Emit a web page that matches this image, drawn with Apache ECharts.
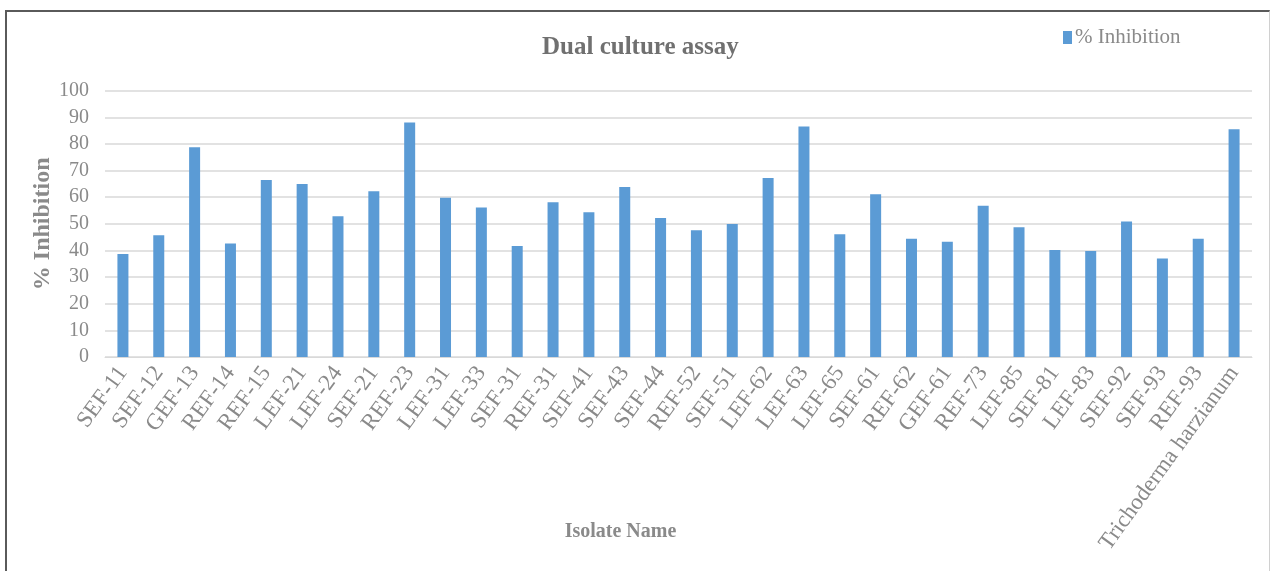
<!DOCTYPE html>
<html>
<head>
<meta charset="utf-8">
<script src="https://cdn.jsdelivr.net/npm/echarts@6/dist/echarts.min.js"></script>
<style>
  html, body { margin: 0; padding: 0; background: #fff; }
  #chart { position: absolute; left: 0; top: 0; width: 1271px; height: 571px; }
  #frame { position: absolute; left: 5px; top: 10px; width: 1262px; height: 570px;
           border-left: 2px solid #5a5a5a; border-top: 2px solid #5a5a5a; border-right: 1px solid #d0d0d0;
           pointer-events: none; }
</style>
</head>
<body>
<div id="chart"></div>
<div id="frame"></div>
<script>
const categories = ["SEF-11","SEF-12","GEF-13","REF-14","REF-15","LEF-21","LEF-24","SEF-21","REF-23","LEF-31","LEF-33","SEF-31","REF-31","SEF-41","SEF-43","SEF-44","REF-52","SEF-51","LEF-62","LEF-63","LEF-65","SEF-61","REF-62","GEF-61","REF-73","LEF-85","SEF-81","LEF-83","SEF-92","SEF-93","REF-93","Trichoderma harzianum"];
const inhibition = [38.7,45.7,78.8,42.6,66.5,65.0,52.9,62.2,88.1,59.8,56.1,41.7,58.1,54.4,63.8,52.2,47.6,49.9,67.2,86.6,46.1,61.1,44.4,43.3,56.8,48.7,40.2,39.8,50.9,37.0,44.4,85.5];
const yTicks = [0,10,20,30,40,50,60,70,80,90,100];

const font = "'Liberation Serif', 'Times New Roman', serif";
const chart = echarts.init(document.getElementById('chart'), null, {renderer: 'canvas'});
chart.setOption({
  animation: false,
  backgroundColor: '#ffffff',
  title: {
    text: 'Dual culture assay',
    left: 537,
    top: 30,
    textStyle: { fontFamily: font, fontSize: 25, fontWeight: 'bold', color: '#707070' }
  },
  legend: {
    data: ['% Inhibition'],
    left: 1058,
    top: 22,
    itemWidth: 9,
    itemHeight: 13,
    itemGap: 4,
    icon: 'rect',
    textStyle: { fontFamily: font, fontSize: 21, color: '#8a8a8a', padding: [0,0,0,-2] }
  },
  grid: { left: 105, right: 19, top: 90.7, bottom: 214, containLabel: false, outerBoundsMode: 'none' },
  xAxis: {
    type: 'category',
    data: categories,
    name: 'Isolate Name',
    nameLocation: 'middle',
    nameGap: 165,
    nameMoveOverlap: false,
    nameTextStyle: { fontFamily: font, fontSize: 20, fontWeight: 'bold', color: '#8a8a8a', padding: [0, 116, 0, 0] },
    axisLine: { lineStyle: { color: '#d9d9d9', width: 1 } },
    axisTick: { show: false },
    axisLabel: { interval: 0, rotate: 54, fontFamily: font, fontSize: 23, color: '#8a8a8a', margin: 12 }
  },
  yAxis: {
    type: 'value',
    min: yTicks[0],
    max: yTicks[yTicks.length - 1],
    interval: 10,
    name: '% Inhibition',
    nameLocation: 'middle',
    nameGap: 50,
    nameRotate: 90,
    nameMoveOverlap: false,
    nameTextStyle: { fontFamily: font, fontSize: 24, fontWeight: 'bold', color: '#8a8a8a' },
    axisLine: { show: false },
    axisTick: { show: false },
    axisLabel: { fontFamily: font, fontSize: 20, color: '#8a8a8a', margin: 16 },
    splitLine: { lineStyle: { color: '#d9d9d9', width: 1.5 } }
  },
  series: [{
    name: '% Inhibition',
    type: 'bar',
    data: inhibition,
    barWidth: 11,
    itemStyle: { color: '#5b9bd5' }
  }]
});
</script>
</body>
</html>
